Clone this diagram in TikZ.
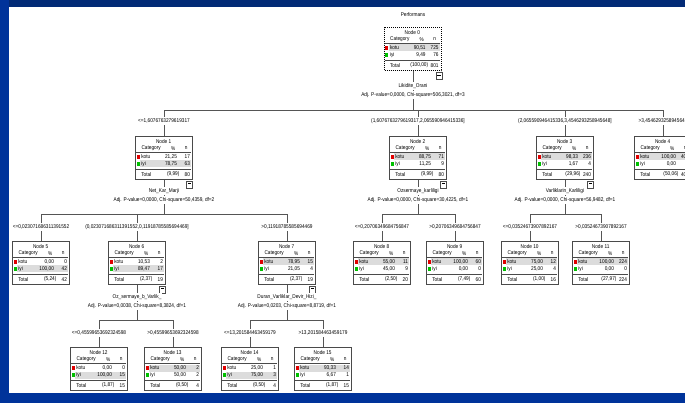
\documentclass[tikz,border=0pt]{standalone}
\usepackage{fontspec}
\setmainfont[FakeStretch=0.86]{Liberation Sans}
\usepackage{xcolor}
\usepackage{tikz}
\usetikzlibrary{backgrounds}
\definecolor{framenavy}{HTML}{022A76}
\definecolor{frameblue}{HTML}{00339A}
\definecolor{kotured}{HTML}{E00000}
\definecolor{iyigreen}{HTML}{00C000}
\definecolor{rowgray}{HTML}{DCDCDC}
\definecolor{boxgray}{HTML}{4A4A4A}
\definecolor{linkgray}{HTML}{555555}
\newcommand{\spss}{\fontsize{5.5}{6}\selectfont}
\tikzset{
  catbox/.style   = {rectangle, draw=boxgray, fill=white, line width=0.7pt,
                     minimum width=57pt, minimum height=43pt, inner sep=0pt},
  picked/.style   = {draw=black, line width=1.4pt, dash pattern=on 1pt off 1pt},
  cell/.style     = {font=\spss, inner sep=0pt},
  rule/.style     = {draw=boxgray, line width=0.5pt},
  splitvar/.style = {font=\spss, fill=white, inner sep=1pt},
  cut/.style      = {font=\spss, fill=white, inner sep=1.5pt},
  link/.style     = {draw=linkgray, line width=0.6pt},
  foldbox/.style  = {rectangle, draw=boxgray, fill=white, line width=0.5pt, minimum width=6pt,
                     minimum height=7pt, inner sep=0pt, font=\spss},
}
% one category table: [style] number, (top centre), kotu %, kotu n, iyi %, iyi n, total %, total n
\newcommand{\catnode}[9][]{%
  \node[catbox,#1,anchor=north] (n#2) at #3 {};
  \begin{scope}[shift={(n#2.north west)}]
    \ifnum#5<#7\relax
      \fill[rowgray] (5,24.5) rectangle (56,31.5);
    \else
      \fill[rowgray] (5,17.5) rectangle (56,24.5);
    \fi
    \node[cell] (n#2-t) at (28.5,5.5) {Node #2};
    \node[cell] (n#2-c) at (16,12.5) {Category};
    \node[cell] (n#2-p) at (38,12.5) {\%};
    \node[cell] (n#2-n) at (51,12.5) {n};
    \draw[rule] (1,16.5) -- (56,16.5);
    \fill[kotured] (1.5,19.3) rectangle (4.5,22.7);
    \node[cell,anchor=west] (n#2-k) at (6,21) {kotu};
    \node[cell,anchor=east] (n#2-kp) at (42,21) {#4};
    \node[cell,anchor=east] (n#2-kn) at (55,21) {#5};
    \fill[iyigreen] (1.5,26.3) rectangle (4.5,29.7);
    \node[cell,anchor=west] (n#2-i) at (6,28) {iyi};
    \node[cell,anchor=east] (n#2-ip) at (42,28) {#6};
    \node[cell,anchor=east] (n#2-in) at (55,28) {#7};
    \draw[rule] (1,33.5) -- (56,33.5);
    \node[cell,anchor=west] (n#2-s) at (6,38.5) {Total};
    \node[cell,anchor=east] (n#2-sp) at (44.5,38.5) {(#8)};
    \node[cell,anchor=east] (n#2-sn) at (55,38.5) {#9};
  \end{scope}}
\newcommand{\foldmark}[1]{\node[foldbox,anchor=north east] (#1-m) at ([yshift=-1pt]#1.south east) {\rule[1.6pt]{3.5pt}{0.6pt}};}

\begin{document}
\begin{tikzpicture}[x=1pt,y=-1pt]
  \useasboundingbox (0,0) rectangle (685,403);
  \clip (0,0) rectangle (685,403);

  \node[cell] (title) at (413,15) {Performans};
  \catnode[picked]{0}{(413,27)}{90,51}{725}{9,49}{76}{100,00}{801}
  \foldmark{n0}
  \node[splitvar] (v0) at (413,86) {Likidite\_Orani};
  \node[splitvar] (p0) at (413,95) {Adj. P-value=0,0000, Chi-square=506,3021, df=3};

  \node[cut] (l1) at (164,121) {<=1,6076763279619317};
  \node[cut] (l2) at (418,121) {(1,6076763279619317,2,065590946415336]};
  \node[cut] (l3) at (565,121) {(2,065590946415336,3,4546293258945648]};
  \node[cut] (l4) at (663,121) {>3,4546293258945648};
  \catnode{1}{(164,136)}{21,25}{17}{78,75}{63}{9,99}{80}
  \catnode{2}{(418,136)}{88,75}{71}{11,25}{9}{9,99}{80}
  \catnode{3}{(565,136)}{98,33}{236}{1,67}{4}{29,96}{240}
  \catnode{4}{(663,136)}{100,00}{401}{0,00}{0}{50,06}{401}
  \foldmark{n1}
  \foldmark{n2}
  \foldmark{n3}
  \node[splitvar] (v1) at (164,191) {Net\_Kar\_Marji};
  \node[splitvar] (p1) at (164,200) {Adj. P-value=0,0000, Chi-square=50,4359, df=2};
  \node[splitvar] (v2) at (418,191) {Ozsermaye\_karliligi};
  \node[splitvar] (p2) at (418,200) {Adj. P-value=0,0000, Chi-square=30,4225, df=1};
  \node[splitvar] (v3) at (565,191) {Varliklarin\_Karliligi};
  \node[splitvar] (p3) at (565,200) {Adj. P-value=0,0000, Chi-square=56,9482, df=1};

  \node[cut] (l5) at (41,227) {<=0,023071686311391552};
  \node[cut] (l6) at (137,227) {(0,023071686311391552,0,11918785585694469]};
  \node[cut] (l7) at (287,227) {>0,11918785585694469};
  \node[cut] (l8) at (382,227) {<=0,20706349684756847};
  \node[cut] (l9) at (455,227) {>0,20706349684756847};
  \node[cut] (l10) at (530,227) {<=0,03524673907892167};
  \node[cut] (l11) at (601,227) {>0,03524673907892167};
  \catnode{5}{(41,241)}{0,00}{0}{100,00}{42}{5,24}{42}
  \catnode{6}{(137,241)}{10,53}{2}{89,47}{17}{2,37}{19}
  \catnode{7}{(287,241)}{78,95}{15}{21,05}{4}{2,37}{19}
  \catnode{8}{(382,241)}{55,00}{11}{45,00}{9}{2,50}{20}
  \catnode{9}{(455,241)}{100,00}{60}{0,00}{0}{7,49}{60}
  \catnode{10}{(530,241)}{75,00}{12}{25,00}{4}{1,00}{16}
  \catnode{11}{(601,241)}{100,00}{224}{0,00}{0}{27,97}{224}
  \foldmark{n6}
  \foldmark{n7}
  \node[splitvar] (v6) at (137,297) {Oz\_sermaye\_b\_Varlik\_};
  \node[splitvar] (p6) at (137,306) {Adj. P-value=0,0038, Chi-square=8,3824, df=1};
  \node[splitvar] (v7) at (287,297) {Duran\_Varliklar\_Devir\_Hizi\_};
  \node[splitvar] (p7) at (287,306) {Adj. P-value=0,0203, Chi-square=8,8719, df=1};

  \node[cut] (l12) at (99,333) {<=0,45599653692324598};
  \node[cut] (l13) at (173,333) {>0,45599653692324598};
  \node[cut] (l14) at (250,333) {<=13,201584463459179};
  \node[cut] (l15) at (323,333) {>13,201584463459179};
  \catnode{12}{(99,347)}{0,00}{0}{100,00}{15}{1,87}{15}
  \catnode{13}{(173,347)}{50,00}{2}{50,00}{2}{0,50}{4}
  \catnode{14}{(250,347)}{25,00}{1}{75,00}{3}{0,50}{4}
  \catnode{15}{(323,347)}{93,33}{14}{6,67}{1}{1,87}{15}

  \coordinate (b0) at (413,110);
  \coordinate (b1) at (164,214);
  \coordinate (b2) at (418,214);
  \coordinate (b3) at (565,214);
  \coordinate (b6) at (137,320);
  \coordinate (b7) at (287,320);
  \begin{scope}[on background layer]
    \draw[link] (n0.south) -- (b0);
    \foreach \k in {1,2,3,4} \draw[link] (b0) -| (n\k.north);
    \draw[link] (n1.south) -- (b1);
    \foreach \k in {5,6,7} \draw[link] (b1) -| (n\k.north);
    \draw[link] (n2.south) -- (b2);
    \foreach \k in {8,9} \draw[link] (b2) -| (n\k.north);
    \draw[link] (n3.south) -- (b3);
    \foreach \k in {10,11} \draw[link] (b3) -| (n\k.north);
    \draw[link] (n6.south) -- (b6);
    \foreach \k in {12,13} \draw[link] (b6) -| (n\k.north);
    \draw[link] (n7.south) -- (b7);
    \foreach \k in {14,15} \draw[link] (b7) -| (n\k.north);
  \end{scope}

  \fill[framenavy] (0,0) rectangle (685,7);
  \fill[frameblue] (0,0) rectangle (9,403);
  \fill[frameblue] (0,393) rectangle (685,403);
\end{tikzpicture}
\end{document}
